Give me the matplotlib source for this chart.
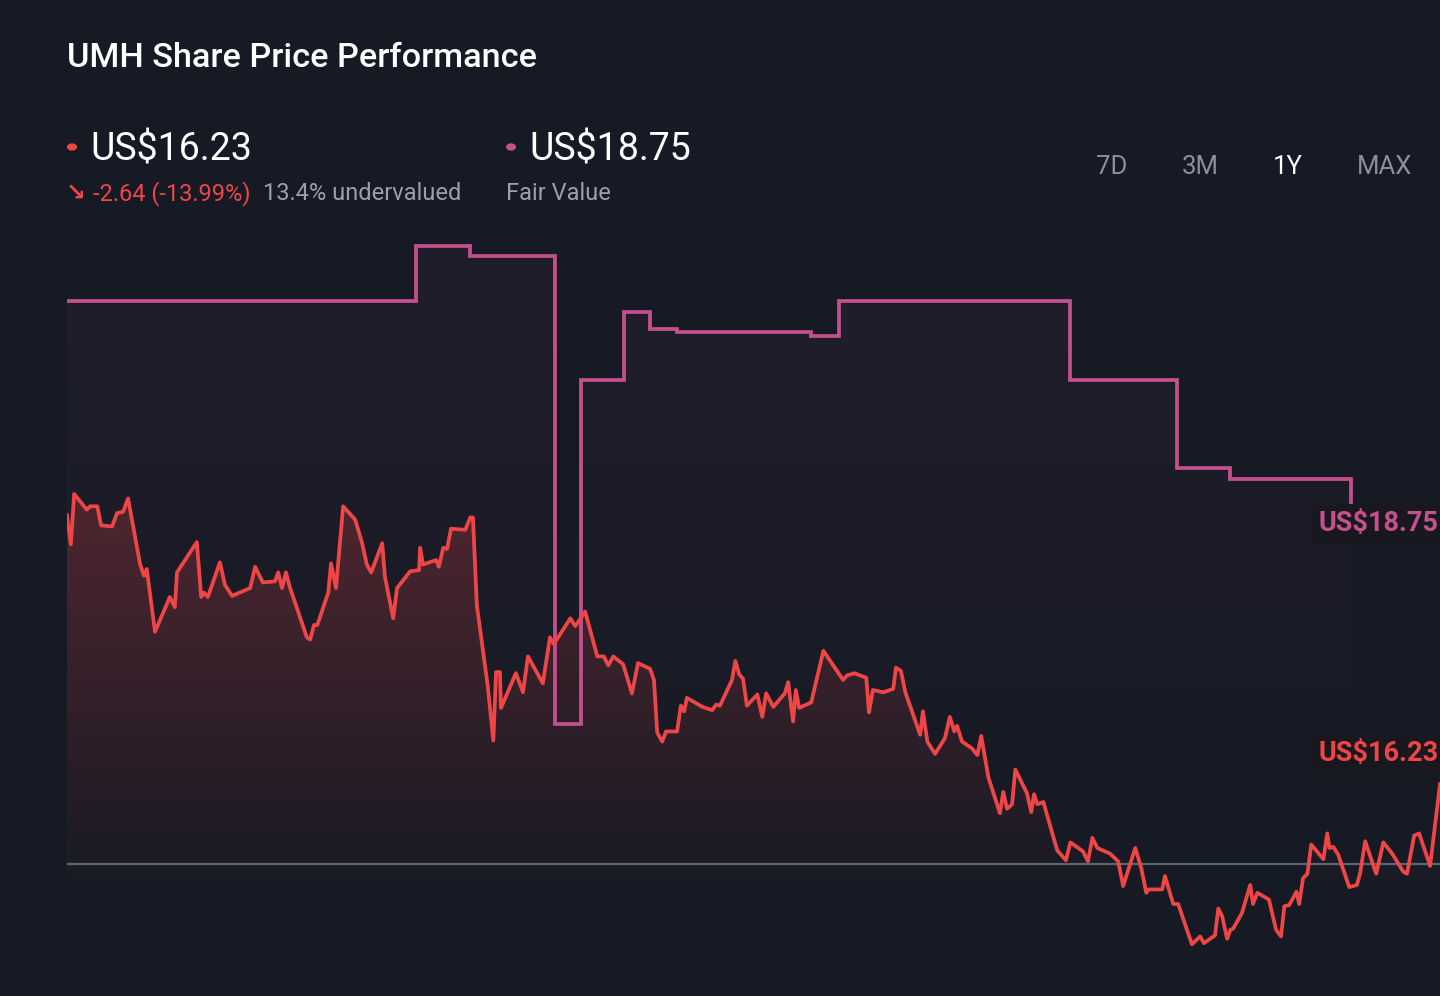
import numpy as np
import matplotlib
matplotlib.use("Agg")
import matplotlib.pyplot as plt
from matplotlib.patches import PathPatch, FancyBboxPatch
from matplotlib.colors import to_rgb

# ---------------- data ----------------
price_x = [0, 0.7, 1.3, 3.6, 4.2, 5.5, 6.2, 8.2, 9.1, 10.2, 11.1, 13.3, 14.0, 14.5, 16.0,
           18.7, 19.6, 20.0, 23.6, 24.4, 24.9, 25.6, 27.8, 28.7, 30.0, 33.3, 34.2, 35.6,
           37.8, 38.4, 39.1, 39.8, 40.5, 43.6, 44.2, 44.9, 45.5, 47.5, 48.0, 48.9, 50.2,
           52.4, 53.6, 54.5, 55.3, 57.3, 57.8, 59.3, 60.0, 62.4, 64.0, 64.2, 64.7, 67.1,
           67.6, 68.4, 69.1, 69.8, 72.4, 73.3, 73.8, 74.5, 76.5, 77.5, 78.0, 78.7, 78.9,
           81.6, 82.9, 83.8, 86.5, 87.8, 88.5, 91.5, 92.4, 94.2, 96.4, 97.6, 98.4, 99.3,
           101.1, 102.7, 103.8, 106.0, 106.7, 107.3, 108.2, 108.9, 110.9, 111.6, 112.2,
           112.7, 115.5, 117.3, 118.0, 118.7, 120.9, 121.5, 122.2, 122.9, 123.6, 125.5,
           126.4, 127.1, 128.4, 130.5, 131.1, 132.0, 132.5, 133.1, 135.3, 137.5, 141.1,
           141.8, 143.1, 145.3, 145.8, 146.5, 148.4, 150.2, 150.7, 151.6, 152.4, 155.1,
           155.6, 156.4, 157.8, 159.6, 160.5, 161.3, 161.8, 162.7, 164.5, 165.5, 166.2,
           167.5, 169.6, 170.2, 170.9, 171.8, 172.4, 174.5, 175.3, 175.8, 176.4, 177.5,
           180.0, 181.6, 182.4, 184.7, 185.6, 186.4, 187.3, 189.6, 191.1, 192.0, 194.2,
           195.3, 196.2, 196.7, 199.1, 199.6, 201.1, 202.0, 204.5, 206.0, 206.7, 208.7,
           209.3, 210.0, 210.9, 211.5, 212.0, 213.6, 215.1, 215.6, 216.4, 218.5, 219.8,
           220.7, 221.3, 222.2, 223.5, 224.0, 224.7, 225.5, 226.2, 228.4, 229.1, 229.5,
           230.2, 231.1, 233.1, 234.5, 235.1, 236.0, 238.0, 239.3, 240.9, 242.9, 243.6,
           244.9, 245.8, 247.8, 249.6]
price_y = [18.63, 18.37, 18.82, 18.68, 18.71, 18.71, 18.54, 18.53, 18.65, 18.66, 18.78,
           18.19, 18.09, 18.15, 17.59, 17.90, 17.81, 18.12, 18.39, 17.90, 17.94, 17.90,
           18.21, 18.01, 17.91, 17.98, 18.17, 18.03, 18.04, 18.12, 17.98, 18.12, 17.99,
           17.54, 17.52, 17.65, 17.65, 17.94, 18.20, 17.98, 18.71, 18.59, 18.39, 18.19,
           18.12, 18.38, 18.08, 17.71, 17.98, 18.13, 18.14, 18.34, 18.19, 18.23, 18.17,
           18.34, 18.33, 18.51, 18.50, 18.61, 18.61, 17.83, 17.10, 16.62, 17.23, 17.23,
           16.91, 17.22, 17.05, 17.37, 17.13, 17.54, 17.48, 17.71, 17.64, 17.77, 17.37,
           17.37, 17.29, 17.37, 17.30, 17.04, 17.31, 17.26, 17.16, 16.69, 16.61, 16.70,
           16.70, 16.93, 16.88, 17.00, 16.92, 16.89, 16.94, 16.93, 17.16, 17.33, 17.21,
           17.17, 16.93, 17.03, 16.83, 17.04, 16.92, 17.04, 17.14, 16.79, 17.07, 16.91,
           16.96, 17.42, 17.16, 17.20, 17.22, 17.18, 16.87, 17.07, 17.05, 17.08, 17.27,
           17.24, 17.05, 16.67, 16.88, 16.61, 16.50, 16.64, 16.83, 16.70, 16.75, 16.61,
           16.55, 16.49, 16.66, 16.29, 15.97, 16.16, 16.01, 16.05, 16.36, 16.15, 15.98,
           16.14, 16.05, 16.07, 15.64, 15.55, 15.71, 15.63, 15.54, 15.75, 15.66, 15.61,
           15.54, 15.32, 15.66, 15.48, 15.26, 15.29, 15.29, 15.41, 15.16, 15.16, 14.80,
           14.87, 14.81, 14.88, 15.12, 15.05, 14.85, 14.93, 14.94, 15.08, 15.33, 15.16,
           15.26, 15.20, 14.93, 14.87, 15.14, 15.15, 15.27, 15.16, 15.39, 15.43, 15.69,
           15.56, 15.79, 15.66, 15.67, 15.60, 15.31, 15.33, 15.44, 15.72, 15.43, 15.71,
           15.61, 15.45, 15.43, 15.77, 15.79, 15.50, 16.23]

fair_x = [0, 63.5, 73.3, 88.7, 93.5, 101.3, 106.0, 110.9, 135.3, 140.4, 182.4, 201.8, 211.5, 233.5]
fair_y = [20.54, 21.03, 20.94, 16.77, 19.84, 20.44, 20.29, 20.27, 20.23, 20.54, 19.84, 19.05, 18.95, 18.75]

baseline_value = 15.52
last_price = "US$16.23"
fair_value = "US$18.75"
change_text = "-2.64 (-13.99%)"
valuation_text = "13.4% undervalued"
ranges = ["7D", "3M", "1Y", "MAX"]
active_range = "1Y"

# ---------------- style ----------------
W, H = 1440, 996
BG = "#151a24"
RED = "#ee4646"
PINK = "#c4508e"
GREY = "#9ba0a8"

plt.rcParams["font.family"] = ["Roboto", "DejaVu Sans"]

fig = plt.figure(figsize=(W / 100, H / 100), dpi=100, facecolor=BG)


def fx(px):
    return px / W


def fy(py):
    return 1 - py / H


ax_top_px, ax_bot_px = 215, 960
ax = fig.add_axes([fx(67), fy(ax_bot_px), 1 - fx(67), (ax_bot_px - ax_top_px) / H])
ax.set_facecolor("none")
ax.set_axis_off()

XMIN, XMAX = 0, 249.6
YMIN, YMAX = 14.66, 21.31
FILL_BOTTOM = 15.06


def gradient_fill(x, y, color, alpha_top, top, bottom, step=None, z=1):
    poly = ax.fill_between(x, y, bottom, step=step, facecolor="none", edgecolor="none")
    path = poly.get_paths()[0]
    patch = PathPatch(path, transform=ax.transData, facecolor="none", edgecolor="none")
    ax.add_patch(patch)
    grad = np.zeros((256, 1, 4))
    grad[:, :, :3] = to_rgb(color)
    grad[:, 0, 3] = np.linspace(alpha_top, 0.0, 256)
    im = ax.imshow(grad, aspect="auto", extent=[XMIN, XMAX, bottom, top],
                   origin="upper", zorder=z, interpolation="bilinear")
    im.set_clip_path(patch)


gradient_fill(fair_x, fair_y, PINK, 0.07, 21.1, FILL_BOTTOM, step="post", z=1)
gradient_fill(price_x, price_y, RED, 0.25, 18.9, FILL_BOTTOM, z=2)

ax.axhline(baseline_value, color="#5d6572", lw=1.6, zorder=3)
ax.plot(fair_x, fair_y, drawstyle="steps-post", color=PINK, lw=2.7, zorder=4,
        solid_joinstyle="miter")
ax.plot(price_x, price_y, color=RED, lw=2.7, zorder=5, solid_joinstyle="round")

ax.set_xlim(XMIN, XMAX)
ax.set_ylim(YMIN, YMAX)

# ---------------- texts ----------------
fig.text(fx(67), fy(67), "UMH Share Price Performance", color="white",
         fontsize=24.7, fontweight="medium", va="baseline", ha="left")

fig.patches.append(plt.Circle((fx(72), fy(147)), 0.0030, transform=fig.transFigure,
                              color=RED, figure=fig))
fig.text(fx(90), fy(160), last_price, color="white", fontsize=27, va="baseline")

fig.patches.append(plt.Circle((fx(511), fy(147)), 0.0030, transform=fig.transFigure,
                              color=PINK, figure=fig))
fig.text(fx(529), fy(160), fair_value, color="white", fontsize=27, va="baseline")

fig.text(fx(66), fy(201), "\u2198", color=RED, fontsize=17, va="baseline",
         family=["DejaVu Sans"], fontweight="bold")
fig.text(fx(93), fy(200), change_text, color=RED, fontsize=17, va="baseline")
fig.text(fx(263), fy(200), valuation_text, color=GREY, fontsize=17, va="baseline")
fig.text(fx(506), fy(200), "Fair Value", color=GREY, fontsize=17, va="baseline")

range_x = [1096, 1182, 1273, 1357]
for label, px in zip(ranges, range_x):
    fig.text(fx(px), fy(174), label, color="white" if label == active_range else "#8a8f98",
             fontsize=18.5, va="baseline")

# right-hand value tags
for txt, cy, col in [(fair_value, 524, PINK), (last_price, 753, RED)]:
    box = FancyBboxPatch((fx(1312), fy(cy + 20)), fx(160), 40 / H,
                         boxstyle="round,pad=0,rounding_size=0.004",
                         transform=fig.transFigure, facecolor="#19181f",
                         edgecolor="none", figure=fig, zorder=10)
    fig.patches.append(box)
    fig.text(fx(1319), fy(cy), "\u2009".join(txt) if False else txt, color=col,
             fontsize=19.5, fontweight="bold", va="center", ha="left", zorder=11)

fig.savefig("out.png", dpi=100, facecolor=BG)
